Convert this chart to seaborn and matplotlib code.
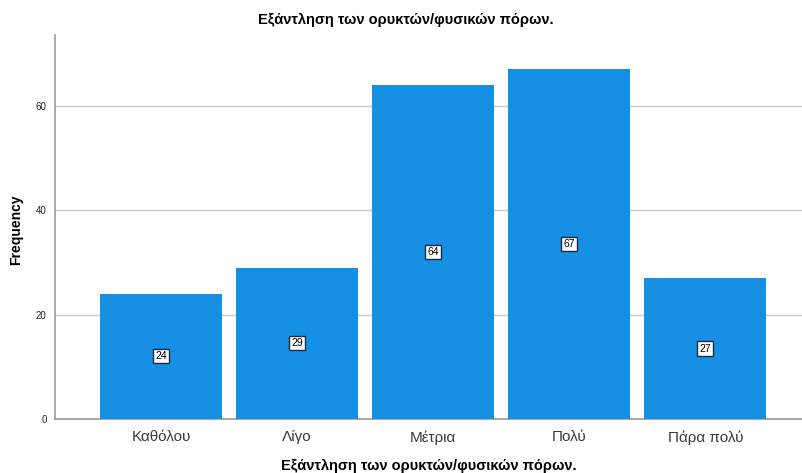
import matplotlib
matplotlib.use("Agg")
import matplotlib.pyplot as plt
import seaborn as sns
import pandas as pd

categories = ["Καθόλου", "Λίγο", "Μέτρια", "Πολύ", "Πάρα πολύ"]
frequencies = [24, 29, 64, 67, 27]
y_ticks = [0, 20, 40, 60]
title_text = "Εξάντληση των ορυκτών/φυσικών πόρων."

df = pd.DataFrame({"category": categories, "frequency": frequencies})

sns.set_theme(style="white")
plt.rcParams["font.family"] = ["Liberation Sans", "DejaVu Sans"]

fig = plt.figure(figsize=(8.02, 4.73), dpi=100)
ax = fig.add_axes([55 / 802, 1 - 419 / 473, 747 / 802, 384 / 473])

sns.barplot(data=df, x="category", y="frequency", color="#1590e5",
            width=0.897, saturation=1, ax=ax, zorder=3, edgecolor="none")

for i, v in enumerate(frequencies):
    ax.text(i, v / 2, str(v), ha="center", va="center", fontsize=7.5, color="black",
            zorder=5,
            bbox=dict(boxstyle="square,pad=0.2", facecolor="white",
                      edgecolor="#1a2a3a", linewidth=1.0))

ax.set_xlim(-0.78, 4.71)
ax.set_ylim(0, 73.6)
ax.set_yticks(y_ticks)
ax.set_yticklabels([str(t) for t in y_ticks], fontsize=7, color="#222222")
ax.tick_params(axis="y", length=0, pad=6)
ax.tick_params(axis="x", length=0, pad=8, labelsize=11, labelcolor="#3a3a3a")
ax.grid(axis="y", color="#c8c8c8", linewidth=1.0, zorder=0)
ax.grid(axis="x", visible=False)

for side in ["top", "right"]:
    ax.spines[side].set_visible(False)
for side in ["left", "bottom"]:
    ax.spines[side].set_color("#999999")
    ax.spines[side].set_linewidth(1.2)

ax.set_xlabel(title_text, fontsize=10.5, fontweight="bold", color="black", labelpad=10)
ax.set_ylabel("")
fig.text(16 / 802, 1 - 230 / 473, "Frequency", rotation=90, ha="center", va="center",
         fontsize=10, fontweight="bold", color="black")
fig.text(406 / 802, 1 - 20 / 473, title_text, ha="center", va="center",
         fontsize=10.5, fontweight="bold", color="black")

fig.savefig("out.png", dpi=100)
